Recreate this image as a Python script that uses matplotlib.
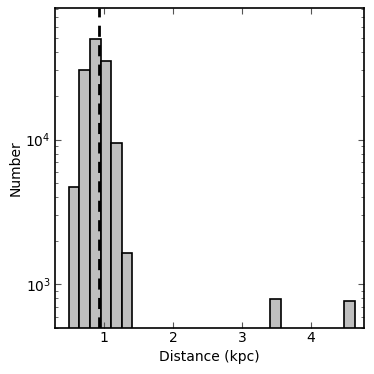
import numpy as np
import matplotlib
matplotlib.use("Agg")
import matplotlib.pyplot as plt

# Histogram data (distance bins in kpc, counts)
bin_lo = 0.49
bin_hi = 4.64
n_bins = 27
counts = [4740, 30200, 49800, 34700, 9440, 1660,
          0, 0, 0, 0, 0, 0, 0, 0, 0, 0, 0, 0, 0,
          794, 0, 0, 0, 0, 0, 0, 770]
marker_x = 0.925

edges = np.linspace(bin_lo, bin_hi, n_bins + 1)
centers = 0.5 * (edges[:-1] + edges[1:])

plt.rcParams.update({
    "xtick.direction": "in", "ytick.direction": "in",
    "xtick.top": True, "ytick.right": True,
    "xtick.major.size": 4, "ytick.major.size": 4,
    "xtick.minor.size": 2, "ytick.minor.size": 2,
    "xtick.major.width": 0.8, "ytick.major.width": 0.8,
    "xtick.minor.width": 0.6, "ytick.minor.width": 0.6,
    "xtick.color": "#555555", "ytick.color": "#555555",
    "xtick.labelcolor": "black", "ytick.labelcolor": "black",
    "xtick.major.pad": 2.5, "ytick.major.pad": 3,
    "font.size": 10,
})

fig = plt.figure(figsize=(3.74, 3.74), dpi=100)
ax = fig.add_axes([55/374, 46/374, 309/374, 320/374])
ax.hist(centers, bins=edges, weights=counts, log=True,
        color="#bfbfbf", edgecolor="black", linewidth=1.2)
ax.axvline(marker_x, color="black", linestyle="--", linewidth=2, dashes=(4, 3))
ax.set_yscale("log")
ax.set_xlim(0.29, 4.77)
ax.set_ylim(500, 81000)
ax.set_xticks([1, 2, 3, 4])
ax.set_xlabel("Distance (kpc)", labelpad=3)
ax.set_ylabel("Number", labelpad=2)
for s in ax.spines.values():
    s.set_linewidth(1.2)
fig.savefig("out.png", dpi=100)
